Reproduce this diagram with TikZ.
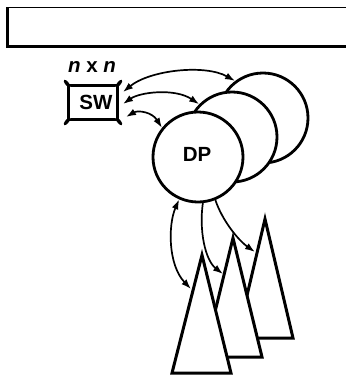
\documentclass[tikz,border=0pt]{standalone}
\usepackage{fontspec}
\setmainfont{Liberation Sans}
\usetikzlibrary{arrows.meta}
\begin{document}
\begin{tikzpicture}[x=1pt,y=1pt,
 blob/.style={circle,draw,fill=white,line width=2.8pt,minimum size=90pt,inner sep=0pt},
 tri/.style={draw,fill=white,line width=3pt,line join=miter},
 swbox/.style={draw,fill=white,line width=2.6pt,line join=round},
 conn/.style={line width=1.7pt,-{Latex[length=10pt,width=7pt]}},
 bconn/.style={line width=1.7pt,{Latex[length=10pt,width=7pt]}-{Latex[length=10pt,width=7pt]}},
 lbl/.style={font=\fontsize{20.5}{20.5}\selectfont\bfseries,inner sep=0pt}]
\useasboundingbox (0,0) rectangle (346,-376);
% top frame
\draw[line width=1.4pt] (346,-7.5) -- (7.5,-7.5);
\draw[line width=2.2pt] (7.5,-7) -- (7.5,-46.5) -- (346,-46.5);
% SW box
\draw[swbox] (65,-81) .. controls (67,-85) .. (71,-85.5) -- (115,-85.5) .. controls (119,-85) .. (121,-81)
 .. controls (117.5,-84) .. (117.5,-89) -- (117.5,-116) .. controls (117.5,-121) .. (121,-124)
 .. controls (119,-120) .. (115,-119.5) -- (71,-119.5) .. controls (67,-120) .. (65,-124)
 .. controls (68.5,-121) .. (68.5,-116) -- (68.5,-89) .. controls (68.5,-84) .. (65,-81) -- cycle;
\node[lbl] (sw) at (96,-102) {SW};
\node[lbl] (nxn) at (92,-67) {\itshape n\upshape\ x \itshape n};
\coordinate (sw1) at (123,-92);
\coordinate (sw2) at (123,-104);
\coordinate (sw3) at (126,-117);
% triangles
\draw[tri] (265,-219) -- (293,-338) -- (237,-338) -- cycle;
\draw[tri] (233,-238) -- (262,-357) -- (204,-357) -- cycle;
\draw[tri] (202,-255) -- (231,-373) -- (172,-373) -- cycle;
\coordinate (ta) at (191,-289);
\coordinate (tb) at (223,-274);
\coordinate (tc) at (255,-252);
% circles
\node[blob] (dp3) at (263,-118) {};
\node[blob] (dp2) at (232,-137) {};
\node[blob] (dp1) at (198,-157) {};
\node[lbl] (dp) at (197,-154) {DP};
% connectors
\draw[bconn] (sw1) .. controls (150,-70) and (205,-64) .. (dp3.127);
\draw[bconn] (sw2) .. controls (140,-92) and (175,-88) .. (dp2.135);
\draw[bconn] (sw3) .. controls (138,-110) and (152,-112) .. (dp1.141);
\draw[bconn] (dp1.246) .. controls (168,-225) and (168,-265) .. (ta);
\draw[conn] (dp1.276) .. controls (199,-230) and (205,-260) .. (tb);
\draw[conn] (dp1.292) .. controls (222,-220) and (238,-240) .. (tc);
\end{tikzpicture}
\end{document}
